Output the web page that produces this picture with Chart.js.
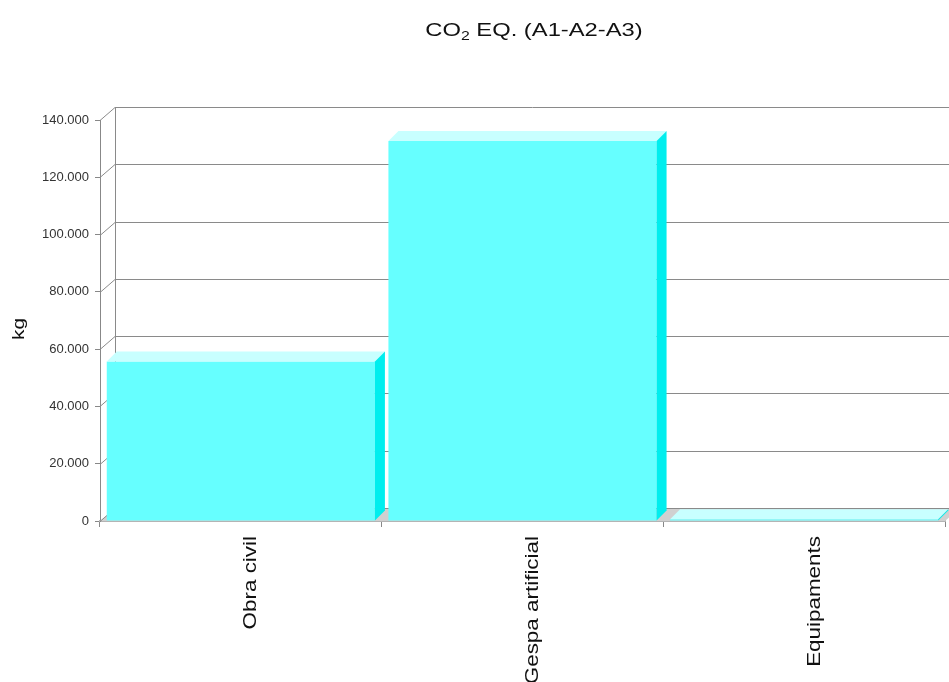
<!DOCTYPE html>
<html>
<head>
<meta charset="utf-8">
<title>CO2 EQ. (A1-A2-A3)</title>
<script src="https://cdn.jsdelivr.net/npm/chart.js@4.4.1/dist/chart.umd.min.js"></script>
<style>
  body { margin: 0; background: #fff; }
  #bar-chart { display: block; }
</style>
</head>
<body>
<canvas id="bar-chart" width="949" height="682"></canvas>
<script>
// chart data
var categories = ['Obra civil', 'Gespa artificial', 'Equipaments'];
var co2Values = [55700, 132700, 600];
var yMax = 140000;
var yStep = 20000;

var FONT = 'Arial, "Liberation Sans", sans-serif';
var wallDx = 15, wallDy = 13;   // depth of the back wall
var barDepth = 10;              // depth of each bar

function fmtThousands(v) {
	return String(v).replace(/\B(?=(\d{3})+(?!\d))/g, '.');
}

// text in the original is a bit wider than arial, so stretch it along its line
function drawText(ctx, text, x, y, angle, stretch, font, align, baseline) {
	ctx.save();
	ctx.translate(x, y);
	ctx.rotate(angle);
	ctx.scale(stretch, 1);
	ctx.font = font;
	ctx.textAlign = align;
	ctx.textBaseline = baseline;
	ctx.fillText(text, 0, 0);
	ctx.restore();
}

// title (with subscript 2), the "kg" axis title and the category labels
var textPlugin = {
	id: 'texts',
	afterDraw: function(chart) {
		var ctx = chart.ctx;
		var big = '18px ' + FONT, small = '12px ' + FONT;
		var a = 'CO', b = '2', c = ' EQ. (A1-A2-A3)';
		var st = 1.32;
		ctx.save();
		ctx.fillStyle = '#111';
		ctx.font = big;
		var wa = ctx.measureText(a).width * st, wc = ctx.measureText(c).width * st;
		ctx.font = small;
		var wb = ctx.measureText(b).width * st;
		var x = 534 - (wa + wb + wc) / 2, y = 36;
		drawText(ctx, a, x, y, 0, st, big, 'left', 'alphabetic');
		drawText(ctx, b, x + wa, y + 4, 0, st, small, 'left', 'alphabetic');
		drawText(ctx, c, x + wa + wb, y, 0, st, big, 'left', 'alphabetic');

		drawText(ctx, 'kg', 20, 329, -Math.PI / 2, 1.3, '16px ' + FONT, 'center', 'middle');

		var xs = chart.scales.x;
		categories.forEach(function(lbl, i) {
			var px = xs.getPixelForTick(i) + 15.5;
			drawText(ctx, lbl, px, 536, -Math.PI / 2, 1.18, '19px ' + FONT, 'right', 'alphabetic');
		});
		ctx.restore();
	}
};

// back wall, floor and the 3d faces of the bars
var depthPlugin = {
	id: 'depth3d',
	beforeDatasetsDraw: function(chart) {
		var ctx = chart.ctx, area = chart.chartArea, ys = chart.scales.y;
		var left = area.left, right = area.right, bottom = area.bottom;
		ctx.save();
		// floor
		ctx.fillStyle = '#d0d0d0';
		ctx.beginPath();
		ctx.moveTo(left, bottom);
		ctx.lineTo(right, bottom);
		ctx.lineTo(right + wallDx, bottom - wallDy);
		ctx.lineTo(left + wallDx, bottom - wallDy);
		ctx.closePath();
		ctx.fill();

		ctx.strokeStyle = '#8a8a8a';
		ctx.lineWidth = 1;
		ys.ticks.forEach(function(t) {
			var py = Math.round(ys.getPixelForValue(t.value)) + 0.5;
			ctx.beginPath();
			ctx.moveTo(left, py);
			ctx.lineTo(left + wallDx, py - wallDy);
			ctx.lineTo(chart.width + 20, py - wallDy);
			ctx.stroke();
		});
		// back wall edge
		var top = Math.round(ys.getPixelForValue(yMax)) + 0.5;
		ctx.beginPath();
		ctx.moveTo(left + wallDx + 0.5, top - wallDy);
		ctx.lineTo(left + wallDx + 0.5, bottom - wallDy);
		ctx.stroke();
		ctx.restore();
	},
	afterDatasetsDraw: function(chart) {
		var ctx = chart.ctx;
		var meta = chart.getDatasetMeta(0);
		ctx.save();
		meta.data.forEach(function(bar) {
			var p = bar.getProps(['x', 'y', 'base', 'width'], true);
			var x0 = p.x - p.width / 2, x1 = p.x + p.width / 2;
			// top face
			ctx.fillStyle = '#c8ffff';
			ctx.beginPath();
			ctx.moveTo(x0, p.y);
			ctx.lineTo(x1, p.y);
			ctx.lineTo(x1 + barDepth, p.y - barDepth);
			ctx.lineTo(x0 + barDepth, p.y - barDepth);
			ctx.closePath();
			ctx.fill();
			// side face
			ctx.fillStyle = '#00eeee';
			ctx.beginPath();
			ctx.moveTo(x1, p.y);
			ctx.lineTo(x1 + barDepth, p.y - barDepth);
			ctx.lineTo(x1 + barDepth, p.base - barDepth);
			ctx.lineTo(x1, p.base);
			ctx.closePath();
			ctx.fill();
		});
		ctx.restore();
	}
};

function barChart() {
	var bar = document.getElementById('bar-chart');
	new Chart(bar, {
		type: 'bar',
		data: {
			labels: categories,
			datasets: [{
				data: co2Values,
				backgroundColor: '#66ffff',
				borderWidth: 0,
				categoryPercentage: 1,
				barPercentage: 0.952
			}]
		},
		options: {
			responsive: false,
			animation: false,
			layout: { padding: { top: 120, right: 4, bottom: 0, left: 0 } },
			plugins: {
				legend: { display: false },
				title: { display: false },
				tooltip: { enabled: false }
			},
			scales: {
				x: {
					afterFit: function(s) { s.height = 161; },
					grid: { drawOnChartArea: false, drawTicks: true, tickLength: 6, color: '#888', offset: true },
					border: { display: true, color: '#b4b4b4', width: 2 },
					ticks: { display: false }
				},
				y: {
					min: 0,
					max: yMax,
					afterFit: function(s) { s.width = 100; },
					grid: { drawOnChartArea: false, drawTicks: true, tickLength: 5, color: '#888' },
					border: { display: true, color: '#888', width: 1 },
					ticks: {
						stepSize: yStep,
						color: '#333',
						padding: 6,
						font: { family: FONT, size: 13 },
						callback: function(v) { return fmtThousands(v); }
					}
				}
			}
		},
		plugins: [depthPlugin, textPlugin]
	});
}

barChart();
</script>
</body>
</html>
